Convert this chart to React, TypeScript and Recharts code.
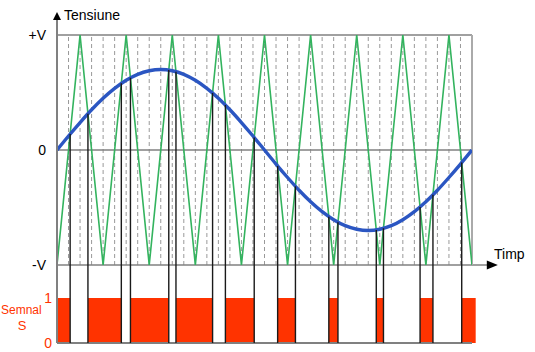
import React from 'react';
import {
  ComposedChart,
  Line,
  XAxis,
  YAxis,
  ReferenceLine,
  ReferenceArea,
  ReferenceDot,
} from 'recharts';

// Carrier (triangle) vertices: time in carrier periods, voltage in units of V
const carrierT = [0, 0.5, 1, 1.5, 2, 2.5, 3, 3.5, 4, 4.5, 5, 5.5, 6, 6.5, 7, 7.5, 8, 8.5, 9];
const carrierV = [-1, 1, -1, 1, -1, 1, -1, 1, -1, 1, -1, 1, -1, 1, -1, 1, -1, 1, -1];

// Modulating (sine) wave samples
const sineT = [
  0, 0.25, 0.5, 0.75, 1, 1.25, 1.5, 1.75, 2, 2.25, 2.5, 2.75, 3, 3.25, 3.5, 3.75, 4, 4.25, 4.5,
  4.75, 5, 5.25, 5.5, 5.75, 6, 6.25, 6.5, 6.75, 7, 7.25, 7.5, 7.75, 8, 8.25, 8.5, 8.75, 9,
];
const sineV = [
  0, 0.122, 0.239, 0.35, 0.45, 0.536, 0.606, 0.658, 0.689, 0.7, 0.689, 0.658, 0.606, 0.536, 0.45,
  0.35, 0.239, 0.122, 0, -0.122, -0.239, -0.35, -0.45, -0.536, -0.606, -0.658, -0.689, -0.7,
  -0.689, -0.658, -0.606, -0.536, -0.45, -0.35, -0.239, -0.122, 0,
];

// Crossings (sine vs carrier)
const riseT = [0.285, 1.395, 2.424, 3.374, 4.277, 5.171, 6.093, 7.08, 8.153];
const riseV = [0.14, 0.58, 0.696, 0.496, 0.108, -0.316, -0.628, -0.68, -0.388];
const fallT = [0.671, 1.593, 2.58, 3.652, 4.785, 5.895, 6.924, 7.874, 8.777];
const fallV = [0.316, 0.628, 0.68, 0.392, -0.14, -0.58, -0.696, -0.496, -0.108];

// PWM signal S = 1 intervals
const pulseStart = [0, 0.671, 1.593, 2.58, 3.652, 4.785, 5.895, 6.924, 7.874, 8.777];
const pulseEnd = [0.285, 1.395, 2.424, 3.374, 4.277, 5.171, 6.093, 7.08, 8.153, 9.08];

// Tick labels
const voltTicks = [-1, 0, 1];
const voltLabels = ['-V', '0', '+V'];
const sigTicks = [0, 1];
const sigLabels = ['0', '1'];

// Layout constants
const T_MAX = 9;
const V_BOTTOM = -1.678; // signal zero level expressed on the voltage axis
const S_TOP = 6.844;
const Y_ARROW = 1.2;
const X_ARROW = 9.56;
const X_ARROW_BASE = 9.33;

const carrierData = carrierT.map((t, i) => ({ t, v: carrierV[i] }));
const sineData = sineT.map((t, i) => ({ t, v: sineV[i] }));
const crossings = [
  ...riseT.map((t, i) => ({ t, v: riseV[i] })),
  ...fallT.map((t, i) => ({ t, v: fallV[i] })),
];
const gridT = Array.from({ length: 35 }, (_, i) => (i + 1) / 4);

const GRAY = '#808080';
const RED = '#ff3300';
const FONT = '"Liberation Sans", Arial, sans-serif';

const UpArrow = (p: any) => (
  <polygon points={`${p.cx},${p.cy} ${p.cx - 4},${p.cy + 8} ${p.cx + 4},${p.cy + 8}`} fill="#000" />
);
const RightArrow = (p: any) => (
  <polygon points={`${p.cx},${p.cy} ${p.cx - 11},${p.cy - 4.5} ${p.cx - 11},${p.cy + 4.5}`} fill="#000" />
);

export default function App() {
  return (
    <div style={{ position: 'absolute', left: 0, top: 0, width: 535, height: 352, background: '#fff' }}>
      <ComposedChart
        width={535}
        height={352}
        margin={{ top: 35, right: 63, bottom: 9, left: 57 }}
        style={{ fontFamily: FONT }}
      >
        <XAxis dataKey="t" type="number" domain={[0, T_MAX]} hide allowDataOverflow />
        <YAxis yAxisId="v" type="number" domain={[V_BOTTOM, 1]} hide allowDataOverflow />
        <YAxis yAxisId="s" type="number" domain={[0, S_TOP]} hide allowDataOverflow />

        {gridT.map((t) => (
          <ReferenceLine
            key={'g' + t}
            yAxisId="v"
            segment={[{ x: t, y: -1 }, { x: t, y: 1 }]}
            stroke="#999"
            strokeDasharray="4 3"
            strokeWidth={1}
          />
        ))}

        {pulseStart.map((s, i) => (
          <ReferenceArea
            key={'p' + i}
            yAxisId="s"
            x1={s}
            x2={pulseEnd[i]}
            y1={0}
            y2={1}
            fill={RED}
            fillOpacity={1}
            stroke="none"
            ifOverflow="visible"
          />
        ))}

        <ReferenceLine yAxisId="v" segment={[{ x: 0, y: 1 }, { x: T_MAX, y: 1 }]} stroke={GRAY} strokeWidth={1.5} />
        <ReferenceLine yAxisId="v" segment={[{ x: 0, y: 0 }, { x: T_MAX, y: 0 }]} stroke={GRAY} strokeWidth={1.5} />
        <ReferenceLine
          yAxisId="v"
          segment={[{ x: 0, y: -1 }, { x: X_ARROW_BASE, y: -1 }]}
          stroke={GRAY}
          strokeWidth={1.5}
          ifOverflow="visible"
        />
        <ReferenceLine yAxisId="v" segment={[{ x: T_MAX, y: -1 }, { x: T_MAX, y: 1 }]} stroke="#aaa" strokeWidth={2} />
        <ReferenceLine yAxisId="s" segment={[{ x: 0, y: 0 }, { x: T_MAX, y: 0 }]} stroke={GRAY} strokeWidth={2} />

        <Line
          yAxisId="v"
          data={carrierData}
          dataKey="v"
          type="linear"
          stroke="#33b35e"
          strokeWidth={1.6}
          dot={false}
          activeDot={false}
          isAnimationActive={false}
        />
        <Line
          yAxisId="v"
          data={sineData}
          dataKey="v"
          type="monotone"
          stroke="#2b56c2"
          strokeWidth={3.4}
          dot={false}
          activeDot={false}
          isAnimationActive={false}
        />

        {crossings.map((c, i) => (
          <ReferenceLine
            key={'c' + i}
            yAxisId="v"
            segment={[{ x: c.t, y: c.v }, { x: c.t, y: V_BOTTOM }]}
            stroke="#1a1a1a"
            strokeWidth={1.4}
            ifOverflow="visible"
          />
        ))}

        <ReferenceLine
          yAxisId="v"
          segment={[{ x: 0, y: V_BOTTOM }, { x: 0, y: Y_ARROW - 0.06 }]}
          stroke={GRAY}
          strokeWidth={2}
          ifOverflow="visible"
        />
        <ReferenceDot yAxisId="v" x={0} y={Y_ARROW} r={0} shape={UpArrow} ifOverflow="visible" />
        <ReferenceDot yAxisId="v" x={X_ARROW} y={-1} r={0} shape={RightArrow} ifOverflow="visible" />

        {voltTicks.map((v, i) => (
          <ReferenceDot
            key={'vl' + v}
            yAxisId="v"
            x={0}
            y={v}
            r={0}
            fill="none"
            stroke="none"
            ifOverflow="visible"
            label={{ value: voltLabels[i], position: 'left', offset: 11, fill: '#000', fontSize: 14, fontFamily: FONT }}
          />
        ))}

        {sigTicks.map((s, i) => (
          <ReferenceDot
            key={'sl' + s}
            yAxisId="s"
            x={0}
            y={s}
            r={0}
            fill="none"
            stroke="none"
            ifOverflow="visible"
            label={{ value: sigLabels[i], position: 'left', offset: 5, fill: RED, fontSize: 14, fontFamily: FONT }}
          />
        ))}
      </ComposedChart>
      <svg
        width={535}
        height={352}
        style={{ position: 'absolute', left: 0, top: 0, pointerEvents: 'none' }}
      >
        <text x={64} y={20} fontSize={14} fontFamily={FONT} fill="#000">
          Tensiune
        </text>
        <text x={494} y={259} fontSize={14} fontFamily={FONT} fill="#000">
          Timp
        </text>
        <text x={1} y={314} fontSize={12} fontFamily={FONT} fill={RED}>
          Semnal
        </text>
        <text x={22} y={330} fontSize={13} fontFamily={FONT} fill={RED} textAnchor="middle">
          S
        </text>
      </svg>
    </div>
  );
}
